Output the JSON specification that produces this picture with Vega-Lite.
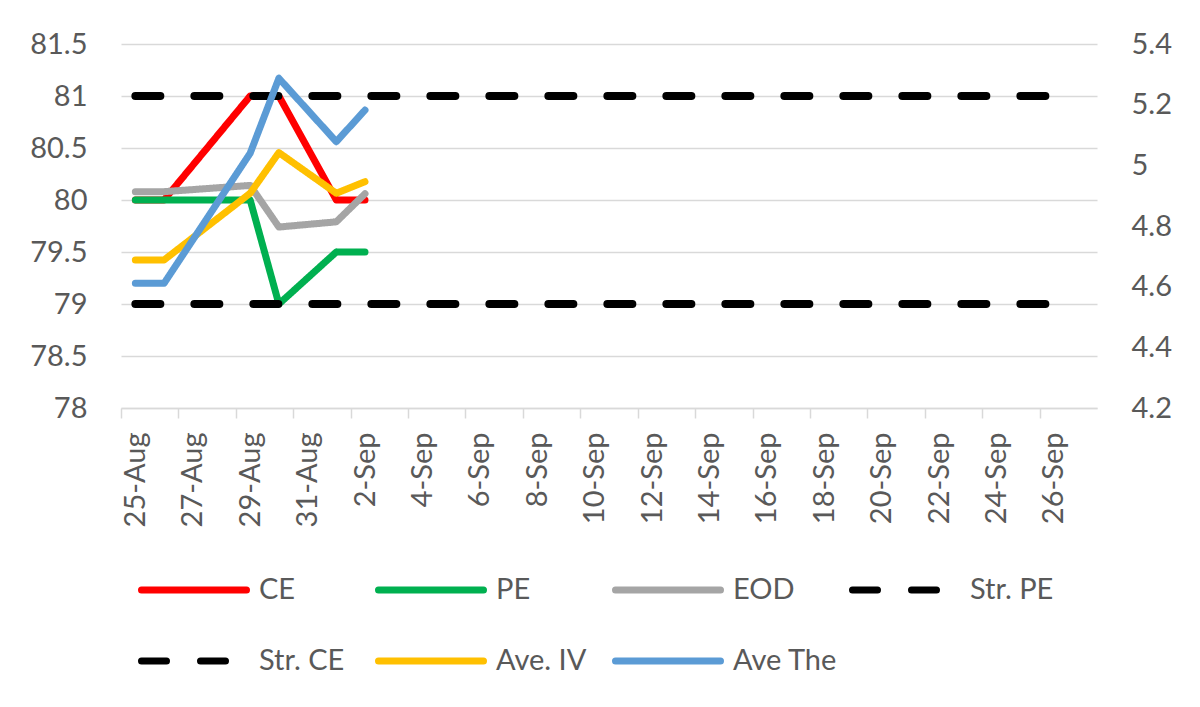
{
  "$schema": "https://vega.github.io/schema/vega-lite/v6.json",
  "description": "CE / PE strike monitor with EOD, average IV and theta",
  "width": 976,
  "height": 364,
  "autosize": "none",
  "padding": {"left": 121, "top": 44, "right": 103, "bottom": 299},
  "background": "white",
  "datasets": {
    "prices": [
      {"date": "2019/08/25", "series": "CE", "value": 80},
      {"date": "2019/08/26", "series": "CE", "value": 80},
      {"date": "2019/08/29", "series": "CE", "value": 81},
      {"date": "2019/08/30", "series": "CE", "value": 81},
      {"date": "2019/09/01", "series": "CE", "value": 80},
      {"date": "2019/09/02", "series": "CE", "value": 80},
      {"date": "2019/08/25", "series": "PE", "value": 80},
      {"date": "2019/08/26", "series": "PE", "value": 80},
      {"date": "2019/08/29", "series": "PE", "value": 80},
      {"date": "2019/08/30", "series": "PE", "value": 79},
      {"date": "2019/09/01", "series": "PE", "value": 79.5},
      {"date": "2019/09/02", "series": "PE", "value": 79.5},
      {"date": "2019/08/25", "series": "EOD", "value": 80.08},
      {"date": "2019/08/26", "series": "EOD", "value": 80.08},
      {"date": "2019/08/29", "series": "EOD", "value": 80.14},
      {"date": "2019/08/30", "series": "EOD", "value": 79.74},
      {"date": "2019/09/01", "series": "EOD", "value": 79.79},
      {"date": "2019/09/02", "series": "EOD", "value": 80.06}
    ],
    "strikes": [
      {"date": "2019/08/25", "series": "Str. PE", "value": 81},
      {"date": "2019/08/26", "series": "Str. PE", "value": 81},
      {"date": "2019/08/29", "series": "Str. PE", "value": 81},
      {"date": "2019/08/30", "series": "Str. PE", "value": 81},
      {"date": "2019/09/01", "series": "Str. PE", "value": 81},
      {"date": "2019/09/02", "series": "Str. PE", "value": 81},
      {"date": "2019/09/26", "series": "Str. PE", "value": 81},
      {"date": "2019/08/25", "series": "Str. CE", "value": 79},
      {"date": "2019/08/26", "series": "Str. CE", "value": 79},
      {"date": "2019/08/29", "series": "Str. CE", "value": 79},
      {"date": "2019/08/30", "series": "Str. CE", "value": 79},
      {"date": "2019/09/01", "series": "Str. CE", "value": 79},
      {"date": "2019/09/02", "series": "Str. CE", "value": 79},
      {"date": "2019/09/26", "series": "Str. CE", "value": 79}
    ],
    "greeks": [
      {"date": "2019/08/25", "series": "Ave. IV", "value": 4.688},
      {"date": "2019/08/26", "series": "Ave. IV", "value": 4.688},
      {"date": "2019/08/29", "series": "Ave. IV", "value": 4.908},
      {"date": "2019/08/30", "series": "Ave. IV", "value": 5.042},
      {"date": "2019/09/01", "series": "Ave. IV", "value": 4.908},
      {"date": "2019/09/02", "series": "Ave. IV", "value": 4.946},
      {"date": "2019/08/25", "series": "Ave The", "value": 4.611},
      {"date": "2019/08/26", "series": "Ave The", "value": 4.611},
      {"date": "2019/08/29", "series": "Ave The", "value": 5.04},
      {"date": "2019/08/30", "series": "Ave The", "value": 5.287},
      {"date": "2019/09/01", "series": "Ave The", "value": 5.078},
      {"date": "2019/09/02", "series": "Ave The", "value": 5.182}
    ]
  },
  "encoding": {
    "x": {
      "field": "date",
      "type": "temporal",
      "title": null,
      "scale": {
        "domain": [
          {"year": 2019, "month": 8, "date": 24, "hours": 12},
          {"year": 2019, "month": 9, "date": 27, "hours": 12}
        ]
      },
      "axis": {
        "values": [
          {"year": 2019, "month": 8, "date": 25}, {"year": 2019, "month": 8, "date": 27},
          {"year": 2019, "month": 8, "date": 29}, {"year": 2019, "month": 8, "date": 31},
          {"year": 2019, "month": 9, "date": 2}, {"year": 2019, "month": 9, "date": 4},
          {"year": 2019, "month": 9, "date": 6}, {"year": 2019, "month": 9, "date": 8},
          {"year": 2019, "month": 9, "date": 10}, {"year": 2019, "month": 9, "date": 12},
          {"year": 2019, "month": 9, "date": 14}, {"year": 2019, "month": 9, "date": 16},
          {"year": 2019, "month": 9, "date": 18}, {"year": 2019, "month": 9, "date": 20},
          {"year": 2019, "month": 9, "date": 22}, {"year": 2019, "month": 9, "date": 24},
          {"year": 2019, "month": 9, "date": 26}, {"year": 2019, "month": 9, "date": 28}
        ],
        "labelExpr": "month(datum.value) == 8 && date(datum.value) == 28 ? '' : timeFormat(datum.value, '%-d-%b')",
        "tickOffset": -14.35,
        "labelOffset": 14.35,
        "labelAngle": -90,
        "labelAlign": "right",
        "labelBaseline": "middle",
        "labelPadding": 14,
        "labelOverlap": false,
        "labelBound": false,
        "labelFlush": false,
        "tickSize": 10,
        "grid": false
      }
    },
    "color": {
      "field": "series",
      "type": "nominal",
      "scale": {
        "domain": ["CE", "PE", "EOD", "Str. PE", "Str. CE", "Ave. IV", "Ave The"],
        "range": ["#ff0000", "#00b050", "#a5a5a5", "#000000", "#000000", "#ffc000", "#5b9bd5"]
      },
      "legend": {
        "title": null,
        "orient": "none",
        "direction": "horizontal",
        "legendX": 17,
        "legendY": 490,
        "columns": 4,
        "gridAlign": "all",
        "columnPadding": 0,
        "rowPadding": -39,
        "symbolType": "stroke",
        "symbolSize": 11025,
        "symbolStrokeWidth": 7,
        "labelOffset": 9,
        "labelLimit": 300,
        "encode": {"symbols": {"update": {"strokeCap": {"value": "round"}}}}
      }
    },
    "strokeDash": {
      "field": "series",
      "type": "nominal",
      "scale": {
        "domain": ["CE", "PE", "EOD", "Str. PE", "Str. CE", "Ave. IV", "Ave The"],
        "range": [[1, 0], [1, 0], [1, 0], [25, 34], [25, 34], [1, 0], [1, 0]]
      },
      "legend": {
        "title": null,
        "orient": "none",
        "direction": "horizontal",
        "legendX": 17,
        "legendY": 490,
        "columns": 4,
        "gridAlign": "all",
        "columnPadding": 0,
        "rowPadding": -39,
        "symbolType": "stroke",
        "symbolSize": 11025,
        "symbolStrokeWidth": 7,
        "labelOffset": 9,
        "labelLimit": 300,
        "encode": {"symbols": {"update": {"strokeCap": {"value": "round"}}}}
      }
    }
  },
  "layer": [
    {
      "encoding": {
        "y": {
          "field": "value",
          "type": "quantitative",
          "title": null,
          "scale": {"domain": [78, 81.5], "nice": false, "zero": false},
          "axis": {
            "orient": "left",
            "values": [78, 78.5, 79, 79.5, 80, 80.5, 81, 81.5],
            "format": "~g",
            "grid": true,
            "ticks": false,
            "domain": false,
            "labelPadding": 34
          }
        }
      },
      "layer": [
        {
          "data": {"name": "prices"},
          "mark": {"type": "line", "strokeWidth": 7, "strokeCap": "round", "strokeJoin": "round"}
        },
        {
          "data": {"name": "strikes"},
          "mark": {"type": "line", "strokeWidth": 8, "strokeCap": "round", "strokeJoin": "round"}
        }
      ]
    },
    {
      "data": {"name": "greeks"},
      "mark": {"type": "line", "strokeWidth": 7, "strokeCap": "round", "strokeJoin": "round"},
      "encoding": {
        "y": {
          "field": "value",
          "type": "quantitative",
          "title": null,
          "scale": {"domain": [4.2, 5.4], "nice": false, "zero": false},
          "axis": {
            "orient": "right",
            "values": [4.2, 4.4, 4.6, 4.8, 5, 5.2, 5.4],
            "format": "~g",
            "grid": false,
            "ticks": false,
            "domain": false,
            "labelPadding": 34
          }
        }
      }
    }
  ],
  "resolve": {"scale": {"y": "independent"}},
  "config": {
    "font": "Lato",
    "view": {"stroke": null},
    "axis": {
      "labelFont": "Lato",
      "labelFontSize": 29,
      "labelColor": "#595959",
      "gridColor": "#d9d9d9",
      "gridWidth": 1.5,
      "domainColor": "#d9d9d9",
      "domainWidth": 1.5,
      "tickColor": "#d9d9d9",
      "tickWidth": 1.5
    },
    "legend": {
      "labelFont": "Lato",
      "labelFontSize": 29,
      "labelColor": "#595959"
    }
  }
}
